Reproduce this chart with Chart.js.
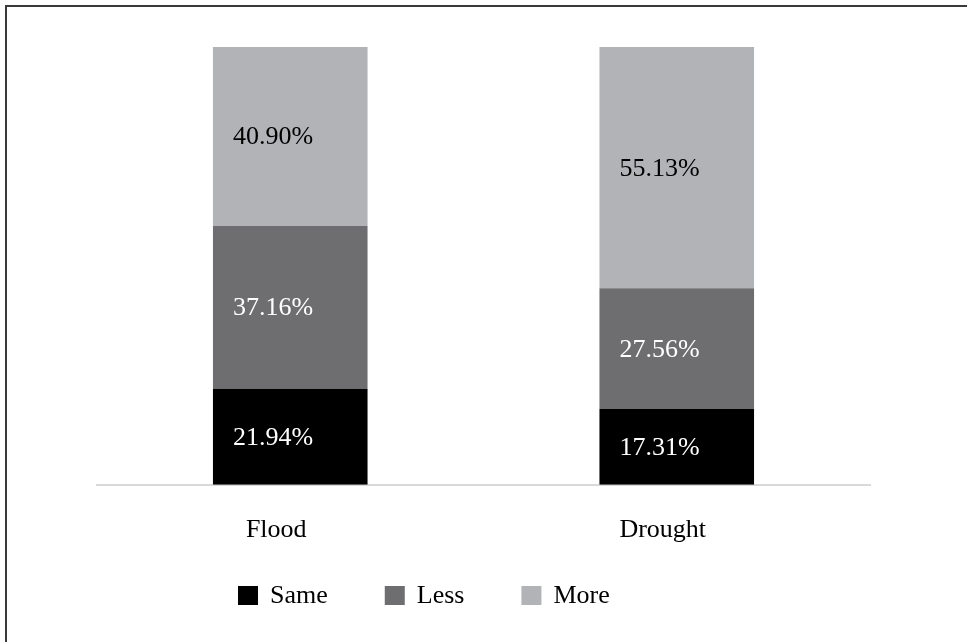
<!DOCTYPE html>
<html>
<head>
<meta charset="utf-8">
<script src="https://cdn.jsdelivr.net/npm/chart.js@4.4.1/dist/chart.umd.min.js"></script>
<style>
  html, body { margin: 0; padding: 0; background: #fff; }
  #wrap { position: relative; width: 967px; height: 642px; overflow: hidden; }
  #frame { position: absolute; left: 5px; top: 5px; right: -10px; bottom: -10px;
           border-top: 2px solid #3a3a3a; border-left: 2px solid #3a3a3a; }
  canvas { position: absolute; left: 0; top: 0; }
</style>
</head>
<body>
<div id="wrap">
  <div id="frame"></div>
  <canvas id="chart" width="967" height="642"></canvas>
</div>
<script>
// 100% stacked shares per hazard
const categories = ['Flood', 'Drought']
const sameValues = [21.94, 17.31]
const lessValues = [37.16, 27.56]
const moreValues = [40.90, 55.13]

const FONT = '"Liberation Serif", "Times New Roman", serif'

// value text inside each segment, left-ish of the bar centre
const segmentLabels = {
  id: 'segmentLabels',
  afterDatasetsDraw (chart) {
    const ctx = chart.ctx
    ctx.save()
    ctx.font = '26px ' + FONT
    ctx.textAlign = 'left'
    ctx.textBaseline = 'middle'
    chart.data.datasets.forEach((ds, i) => {
      chart.getDatasetMeta(i).data.forEach((bar, j) => {
        const left = bar.x - bar.width / 2
        ctx.fillStyle = ds.labelColor
        ctx.fillText(ds.data[j].toFixed(2) + '%', left + 20, (bar.y + bar.base) / 2 + 1)
      })
    })
    ctx.restore()
  }
}

// legend row under the axis
const bottomLegend = {
  id: 'bottomLegend',
  afterDraw (chart) {
    const ctx = chart.ctx
    ctx.save()
    ctx.font = '26px ' + FONT
    ctx.textBaseline = 'middle'
    ctx.textAlign = 'left'
    let x = 238
    const y = 596
    chart.data.datasets.forEach(ds => {
      ctx.fillStyle = ds.backgroundColor
      ctx.fillRect(x, y - 10, 20, 19)
      x += 20 + 12
      ctx.fillStyle = '#000'
      ctx.fillText(ds.label, x, y)
      x += ctx.measureText(ds.label).width + 57
    })
    ctx.restore()
  }
}

new Chart(document.getElementById('chart'), {
  type: 'bar',
  data: {
    labels: categories,
    datasets: [
      { label: 'Same', data: sameValues, backgroundColor: '#000000', labelColor: '#ffffff' },
      { label: 'Less', data: lessValues, backgroundColor: '#6e6e70', labelColor: '#ffffff' },
      { label: 'More', data: moreValues, backgroundColor: '#b1b3b6', labelColor: '#000000' }
    ]
  },
  options: {
    responsive: false,
    animation: false,
    layout: { padding: { top: 47, left: 97, right: 97, bottom: 74 } },
    datasets: { bar: { barPercentage: 0.4, categoryPercentage: 1 } },
    scales: {
      x: {
        stacked: true,
        grid: { display: false },
        border: { display: true, color: '#d9d9d9', width: 2 },
        ticks: { color: '#000', font: { family: FONT, size: 26 }, padding: 22, labelOffset: -14 }
      },
      y: { stacked: true, display: false, min: 0, max: 100 }
    },
    plugins: { legend: { display: false }, tooltip: { enabled: false } }
  },
  plugins: [segmentLabels, bottomLegend]
})
</script>
</body>
</html>
